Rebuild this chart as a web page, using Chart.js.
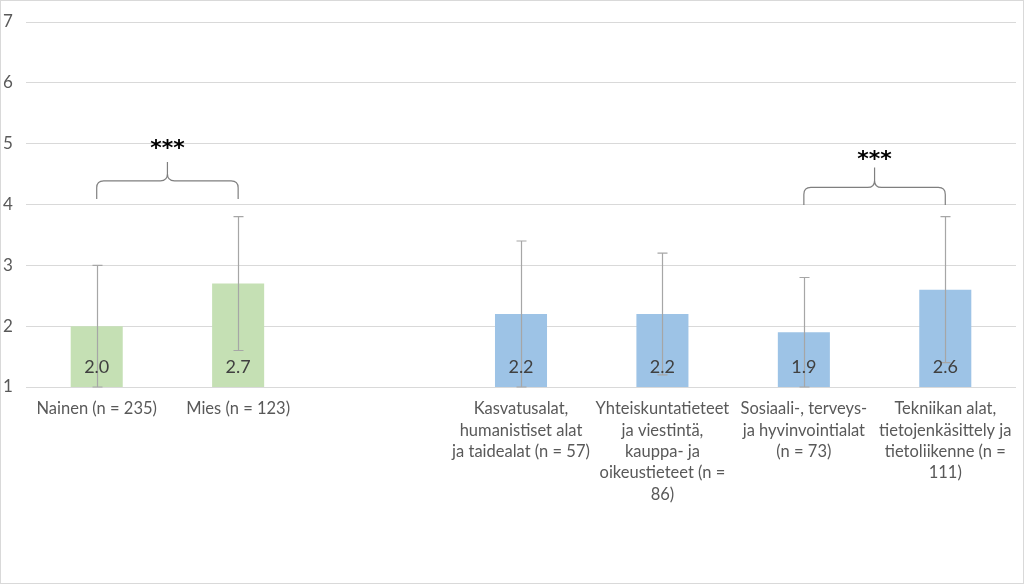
<!DOCTYPE html>
<html>
<head>
<meta charset="utf-8">
<script src="https://cdn.jsdelivr.net/npm/chart.js@4"></script>
<style>
  html, body { margin: 0; padding: 0; background: #ffffff; }
  #wrap { width: 1024px; height: 584px; position: relative; }
</style>
</head>
<body>
<div id="wrap"><canvas id="c" width="1024" height="584"></canvas></div>
<script>
// ---- data ----
const categories = [
  ["Nainen (n = 235)"],
  ["Mies (n = 123)"],
  [""],
  ["Kasvatusalat,", "humanistiset alat", "ja taidealat (n = 57)"],
  ["Yhteiskuntatieteet", "ja viestintä,", "kauppa- ja", "oikeustieteet (n =", "86)"],
  ["Sosiaali-, terveys-", "ja hyvinvointialat", "(n = 73)"],
  ["Tekniikan alat,", "tietojenkäsittely ja", "tietoliikenne (n =", "111)"]
];
const means     = [2.0, 2.7, null, 2.2, 2.2, 1.9, 2.6];
const errLow    = [1.0, 1.6, null, 1.0, 1.2, 1.0, 1.4];
const errHigh   = [3.0, 3.8, null, 3.4, 3.2, 2.8, 3.8];
const groups    = ["gender", "gender", "", "field", "field", "field", "field"];
const yTicks    = [1, 2, 3, 4, 5, 6, 7];
const sigPairs  = [[0, 1], [5, 6]];
const sigLabels = ["***", "***"];

// ---- styles ----
const groupColors = { gender: "#c5e0b4", field: "#9dc3e6", "": "rgba(0,0,0,0)" };
const FONT = "Lato, 'Open Sans', sans-serif";
const braceLevels = [
  { base: 4.09, line: 4.39, tip: 4.70, text: 4.97 },
  { base: 3.99, line: 4.28, tip: 4.61, text: 4.79 }
];

const extrasPlugin = {
  id: "extras",
  afterDatasetsDraw(chart) {
    const ctx = chart.ctx;
    const ys = chart.scales.y;
    const meta = chart.getDatasetMeta(0);
    ctx.save();
    // error bars
    ctx.strokeStyle = "#a6a6a6";
    ctx.lineWidth = 1.2;
    means.forEach((m, i) => {
      if (m === null) return;
      const x = Math.round(meta.data[i].x) + 0.5;
      const yl = ys.getPixelForValue(errLow[i]);
      const yh = ys.getPixelForValue(errHigh[i]);
      ctx.beginPath();
      ctx.moveTo(x, yl); ctx.lineTo(x, yh);
      ctx.moveTo(x - 5, yh); ctx.lineTo(x + 5, yh);
      ctx.moveTo(x - 5, yl); ctx.lineTo(x + 5, yl);
      ctx.stroke();
    });
    // value labels
    ctx.fillStyle = "#404040";
    ctx.font = "18px " + FONT;
    ctx.textAlign = "center";
    ctx.textBaseline = "middle";
    means.forEach((m, i) => {
      if (m === null) return;
      ctx.fillText(m.toFixed(1), meta.data[i].x, ys.getPixelForValue(1) - 20);
    });
    // significance braces
    sigPairs.forEach((p, k) => {
      const lv = braceLevels[k];
      const x1 = meta.data[p[0]].x, x2 = meta.data[p[1]].x;
      const xm = (x1 + x2) / 2;
      const yb = ys.getPixelForValue(lv.base);
      const yl = ys.getPixelForValue(lv.line);
      const yt = ys.getPixelForValue(lv.tip);
      const r = 7;
      ctx.strokeStyle = "#7f7f7f";
      ctx.lineWidth = 1.2;
      ctx.beginPath();
      ctx.moveTo(x1, yb);
      ctx.lineTo(x1, yl + r);
      ctx.quadraticCurveTo(x1, yl, x1 + r, yl);
      ctx.lineTo(xm - r, yl);
      ctx.quadraticCurveTo(xm, yl, xm, yl - r);
      ctx.lineTo(xm, yt);
      ctx.moveTo(xm, yl - r);
      ctx.quadraticCurveTo(xm, yl, xm + r, yl);
      ctx.lineTo(x2 - r, yl);
      ctx.quadraticCurveTo(x2, yl, x2, yl + r);
      ctx.lineTo(x2, yb);
      ctx.stroke();
      ctx.fillStyle = "#000000";
      ctx.font = "bold 22px 'DejaVu Sans', sans-serif";
      ctx.fillText(sigLabels[k], xm, ys.getPixelForValue(lv.text) + 4);
    });
    ctx.restore();
  },
  afterDraw(chart) {
    const ctx = chart.ctx;
    ctx.save();
    ctx.strokeStyle = "#d9d9d9";
    ctx.lineWidth = 1;
    ctx.strokeRect(0.5, 0.5, chart.width - 1, chart.height - 1);
    ctx.restore();
  }
};

new Chart(document.getElementById("c"), {
  type: "bar",
  data: {
    labels: categories,
    datasets: [{
      data: means,
      backgroundColor: groups.map(g => groupColors[g]),
      borderWidth: 0,
      categoryPercentage: 1.0,
      barPercentage: 0.368
    }]
  },
  options: {
    responsive: false,
    animation: false,
    devicePixelRatio: 1,
    layout: { padding: { left: 3, right: 8, top: 22, bottom: 0 } },
    plugins: { legend: { display: false }, tooltip: { enabled: false } },
    scales: {
      x: {
        grid: { display: false, drawTicks: false },
        border: { display: false },
        ticks: {
          color: "#595959",
          font: { family: FONT, size: 16.5, lineHeight: 1.3 },
          padding: 11,
          maxRotation: 0,
          autoSkip: false
        },
        afterFit(scale) { scale.height = 584 - 387; }
      },
      y: {
        min: 1, max: 7,
        afterBuildTicks(scale) { scale.ticks = yTicks.map(v => ({ value: v })); },
        grid: { color: "#d9d9d9", lineWidth: 1, drawTicks: false },
        border: { display: false },
        ticks: {
          color: "#595959",
          font: { family: FONT, size: 17 },
          crossAlign: "far",
          padding: 8
        },
        afterFit(scale) { scale.width = 23; }
      }
    }
  },
  plugins: [extrasPlugin]
});
</script>
</body>
</html>
